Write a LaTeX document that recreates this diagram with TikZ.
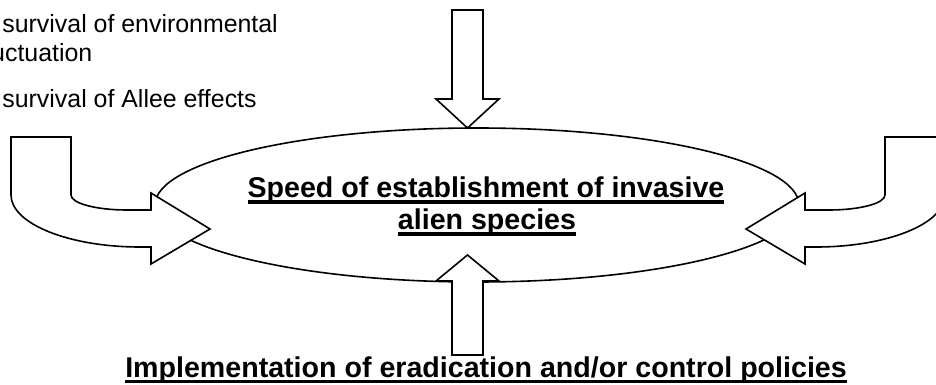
\documentclass[tikz,border=0pt]{standalone}
\usepackage{fontspec}
\setmainfont{Liberation Sans}
\usetikzlibrary{shapes.geometric}

% thick underline: text, depth of the rule, thickness of the rule
\newcommand{\ulbox}[3]{\setbox0\hbox{#1}\rlap{\rule[-#2]{\wd0}{#3}}\box0}

\begin{document}
\begin{tikzpicture}[
        x=0.5pt, y=-0.5pt,
        blockarrow/.style={draw=black, fill=white, line width=0.8pt, line join=miter},
        factor/.style={anchor=base west, inner sep=0pt, font=\fontsize{12.45}{14}\selectfont},
        title/.style={anchor=base, inner sep=0pt, font=\bfseries\fontsize{14.3}{16}\selectfont},
    ]
    \useasboundingbox (0,0) rectangle (936,385);

    % central ellipse
    \node[ellipse, draw=black, line width=0.8pt, inner sep=0pt,
          minimum width=322pt, minimum height=77pt] (speed) at (477,205) {};

    % factors, top left
    \node[factor] (envA) at (2,33) {survival of environmental};
    \node[factor] (envB) at (-21.6,62) {fluctuation};
    \node[factor] (allee) at (2,107) {survival of Allee effects};

    % arrow from above
    \draw[blockarrow] (452,10) -- (483,10) -- (483,99) -- (499,99) -- (467.5,128)
        -- (436,99) -- (452,99) -- cycle;

    % bent arrow from the left
    \draw[blockarrow] (11,137) -- (71,137) -- (71,195)
        .. controls (71,203.3) and (96,210) .. (127,210) -- (151,210) -- (151,193)
        -- (210,229) -- (151,264) -- (151,247) -- (140,247)
        .. controls (68.8,247) and (11,223.7) .. (11,195) -- cycle;

    % bent arrow from the right
    \draw[blockarrow] (945,137) -- (885,137) -- (885,195)
        .. controls (885,203.3) and (860,210) .. (829,210) -- (805,210) -- (805,193)
        -- (746,229) -- (805,264) -- (805,247) -- (816,247)
        .. controls (887.2,247) and (945,223.7) .. (945,195) -- cycle;

    % arrow from below
    \draw[blockarrow] (452,355) -- (483,355) -- (483,281) -- (499,281) -- (467.5,255)
        -- (436,281) -- (452,281) -- cycle;

    % labels
    \node[title] (speedA) at (486,197) {\ulbox{Speed of establishment of invasive}{3.3pt}{1.6pt}};
    \node[title] (speedB) at (487,229) {\ulbox{alien species}{3.3pt}{1.6pt}};
    \node[title] (policy) at (486,377)
        {\ulbox{Implementation of eradication and/or control policies}{3pt}{1.5pt}};
\end{tikzpicture}
\end{document}
